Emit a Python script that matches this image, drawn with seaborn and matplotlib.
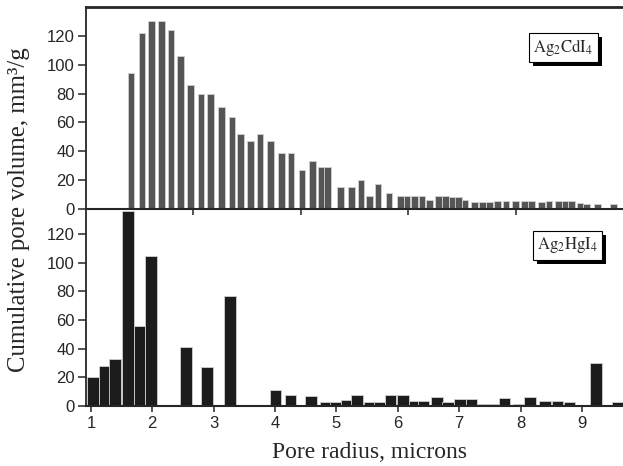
import numpy as np
import pandas as pd
import matplotlib
matplotlib.use("Agg")
import matplotlib.pyplot as plt
import matplotlib.patheffects as pe
import seaborn as sns

# Ag2CdI4 (upper panel, its own radius scale 1..6)
cd_radius = [1.42, 1.52, 1.61, 1.70, 1.79, 1.88, 1.97, 2.07, 2.16, 2.26,
             2.36, 2.44, 2.53, 2.62, 2.72, 2.82, 2.91, 3.01, 3.11, 3.19,
             3.25, 3.37, 3.47, 3.56, 3.64, 3.72, 3.82, 3.93, 3.99, 4.06,
             4.13, 4.20, 4.28, 4.35, 4.41, 4.47, 4.53, 4.62, 4.69, 4.76,
             4.83, 4.91, 5.00, 5.08, 5.15, 5.24, 5.31, 5.40, 5.46, 5.52,
             5.60, 5.66, 5.76, 5.91]
cd_volume = [94, 122, 130, 130, 124, 106, 86, 80, 80, 71,
             64, 52, 47, 52, 47, 39, 39, 27, 33, 29,
             29, 15, 15, 20, 9, 17, 11, 9, 9, 9,
             9, 6, 9, 9, 8, 8, 6, 5, 5, 5,
             5.5, 5.5, 5.5, 5.5, 5.5, 5, 5.5, 5.5, 5.5, 5.5,
             4, 3.5, 3.5, 3.5]

# Ag2HgI4 (lower panel)
hg_radius = [1.03, 1.22, 1.39, 1.60, 1.79, 1.98, 2.55, 2.89, 3.27, 4.01,
             4.25, 4.59, 4.82, 4.99, 5.17, 5.34, 5.55, 5.70, 5.88, 6.09,
             6.28, 6.42, 6.64, 6.82, 7.01, 7.20, 7.41, 7.56, 7.74, 7.97,
             8.16, 8.40, 8.60, 8.80, 9.23, 9.59]
hg_volume = [20, 28, 33, 136, 56, 105, 41, 27, 77, 11,
             8, 7, 3, 2.5, 4.5, 7.5, 3, 3, 7.5, 8,
             3.5, 3.5, 6.3, 3, 4.6, 4.6, 1.4, 1.4, 5.8, 1.4,
             6.5, 3.7, 3.7, 3, 30, 3]

cd = pd.DataFrame({"radius": cd_radius, "volume": cd_volume})
hg = pd.DataFrame({"radius": hg_radius, "volume": hg_volume})

sns.set_style("ticks")
plt.rcParams["font.family"] = ["Liberation Sans", "DejaVu Sans"]
plt.rcParams["mathtext.fontset"] = "stix"

fig = plt.figure(figsize=(6.23, 4.66), dpi=100)
left, right = 86 / 623, 1.0
ax1 = fig.add_axes([left, 1 - 209 / 466, right - left, 202 / 466])
ax2 = fig.add_axes([left, 1 - 406 / 466, right - left, 197 / 466])


def bars(ax, df, color, bar_w):
    step = np.diff(np.sort(df["radius"].values)).min()
    sns.barplot(data=df, x="radius", y="volume", native_scale=True, orient="x",
                width=bar_w / step, color=color, saturation=1, errorbar=None,
                edgecolor="#d0d0d0", linewidth=0.6, ax=ax)


bars(ax1, cd, "#555555", 0.062)
bars(ax2, hg, "#1c1c1c", 0.19)

ax1.set_xlim(1, 6)
ax1.set_ylim(0, 140)
ax1.set_xticks([2, 3, 4, 5])
ax1.set_xticklabels([])
ax2.set_xlim(0.92, 9.67)
ax2.set_ylim(0, 137.5)
ax2.set_xticks(range(1, 10))

for ax in (ax1, ax2):
    ax.set_yticks(range(0, 121, 20))
    ax.set_xlabel("")
    ax.set_ylabel("")
    ax.spines["right"].set_visible(False)
    ax.spines["left"].set_linewidth(1.3)
    ax.spines["bottom"].set_linewidth(1.5)
    ax.tick_params(axis="y", direction="out", length=6, width=1.1,
                   labelsize=12, pad=2)
    ax.tick_params(axis="x", direction="out", length=4, width=1.1,
                   labelsize=12, pad=3)
ax1.spines["top"].set_linewidth(2)
ax2.spines["top"].set_visible(False)
ax1.set_zorder(3)
ax1.patch.set_alpha(0)


def tag(ax, x, y, s):
    t = ax.text(x, y, s, transform=ax.transAxes, ha="center", va="center",
                fontsize=12, family="Liberation Serif",
                bbox=dict(boxstyle="square,pad=0.25", fc="white", ec="black",
                          lw=0.8), zorder=6)
    t.get_bbox_patch().set_path_effects([
        pe.SimplePatchShadow(offset=(3, -3), shadow_rgbFace="black", alpha=1),
        pe.Normal()])


tag(ax1, 0.889, 0.80, r"$\mathrm{Ag_2CdI_4}$")
tag(ax2, 0.897, 0.815, r"$\mathrm{Ag_2HgI_4}$")

ax2.set_xlabel("Pore radius, microns", family="Liberation Serif", fontsize=17)
ax2.xaxis.set_label_coords((370 - 86) / 537, -(442 - 406) / 197)
fig.text(19 / 623, 0.551, "Cumulative pore volume, mm\u00b3/g", rotation=90,
         ha="center", va="center", family="Liberation Serif", fontsize=17.8)

fig.savefig("out.png", dpi=100)
